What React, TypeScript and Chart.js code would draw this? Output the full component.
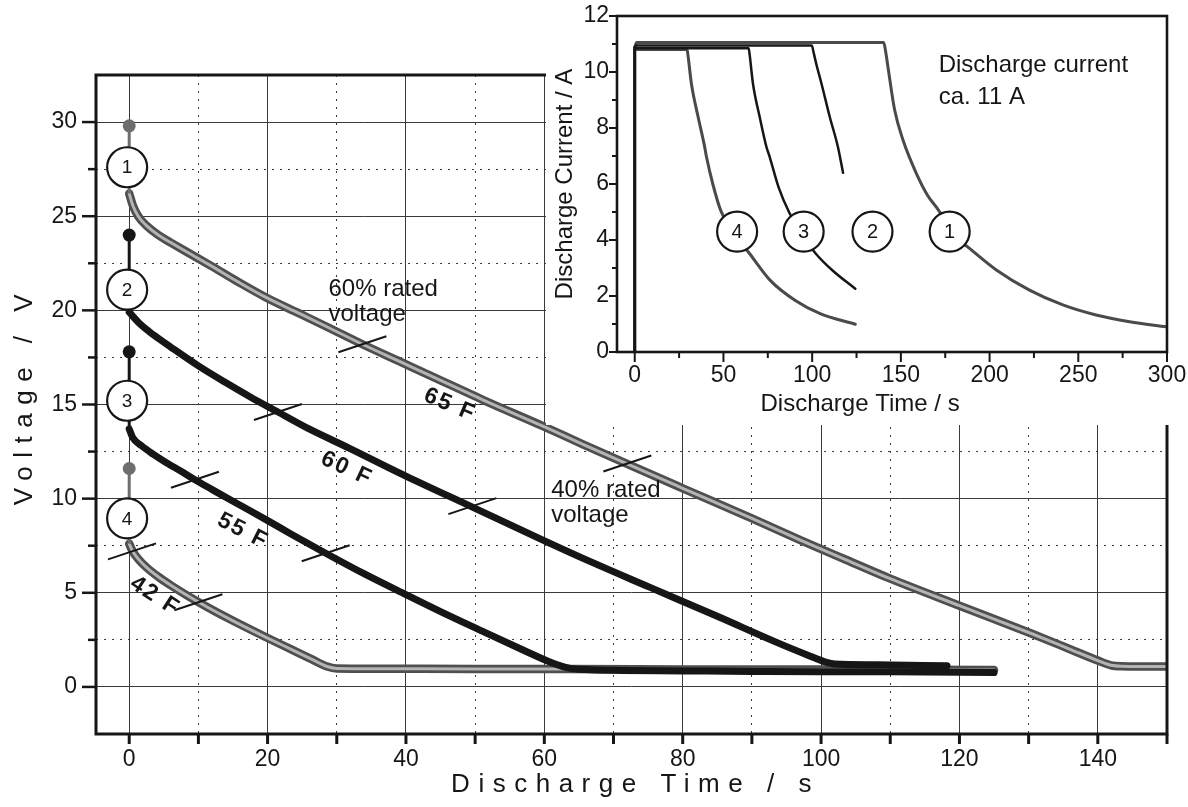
import React, { useEffect, useRef } from 'react';
import { Chart, registerables } from 'chart.js';

Chart.register(...registerables);

const FONT = "'Liberation Sans', Arial, Helvetica, sans-serif";
const INK = '#161616';
const GRID_COLOR = '#3a3a3a';
const GRAY_DARK = '#4f4f4f';
const GRAY_LIGHT = '#b4b4b4';

// ================= Main chart: voltage vs discharge time =================
const time65F = [0, 0.5, 1.3, 2.5, 4.2, 6, 8.1, 11.9, 15.8, 19.7, 24.5, 29, 33.7, 39, 44.3, 51.1, 59.8, 65.5, 71.8, 80, 90, 97, 103.7, 110, 120.1, 130.3, 136, 140, 141.9, 143.5, 150];
const volt65F = [26.2, 25.6, 25.0, 24.5, 24.0, 23.6, 23.15, 22.35, 21.5, 20.7, 19.85, 19.05, 18.2, 17.3, 16.4, 15.25, 13.85, 12.9, 11.87, 10.55, 8.95, 7.8, 6.74, 5.75, 4.3, 2.85, 2.0, 1.4, 1.15, 1.1, 1.08];
const time60F = [0, 1.5, 3.5, 6, 10, 14, 17.5, 21.5, 26, 31.7, 40, 49.6, 59.8, 67, 75.2, 85, 94, 98, 100.8, 102, 108, 118.2];
const volt60F = [19.9, 19.3, 18.7, 18.05, 17.05, 16.15, 15.4, 14.6, 13.7, 12.7, 11.2, 9.55, 7.8, 6.6, 5.3, 3.75, 2.3, 1.7, 1.3, 1.22, 1.18, 1.12];
const time55F = [0, 0.5, 1.8, 3.5, 5.2, 7.5, 9.5, 12, 14.8, 19.7, 23.5, 28.4, 34, 40, 45, 51.1, 57, 61, 63.6, 66, 70, 80, 90, 100, 110, 125];
const volt55F = [13.7, 13.25, 12.8, 12.35, 11.95, 11.45, 11.0, 10.48, 9.9, 8.9, 8.1, 7.1, 6.0, 4.9, 4.0, 2.95, 1.95, 1.3, 1.0, 0.92, 0.88, 0.85, 0.82, 0.8, 0.8, 0.76];
const time42F = [0, 0.5, 1.3, 2.5, 4.2, 6, 8.1, 11, 14.8, 19.7, 23.5, 26.5, 28.5, 30, 35, 50, 63, 80, 100, 125];
const volt42F = [7.6, 7.2, 6.8, 6.35, 5.85, 5.4, 4.92, 4.3, 3.55, 2.65, 1.98, 1.45, 1.1, 0.98, 0.97, 0.95, 0.95, 0.93, 0.92, 0.9];

// start markers (dot at charge voltage, numbered circle, start of discharge)
const markerDotVolt = [29.8, 24.0, 17.8, 11.6];
const markerCircleVolt = [27.6, 21.1, 15.2, 8.95];
const markerCircleTime = -0.3;
const markerLabels = ['1', '2', '3', '4'];
const markerColors = ['#6e6e6e', INK, INK, '#6e6e6e'];

// 60 % / 40 % rated-voltage marks on each curve
const ratedMarkTime = [33.7, 72, 21.5, 49.6, 9.5, 28.4, 0.4, 10];
const ratedMarkVolt = [18.2, 11.87, 14.6, 9.6, 11.0, 7.1, 7.2, 4.5];

// capacitance labels
const capLabels = ['65 F', '60 F', '55 F', '42 F'];
const capLabelTime = [46.2, 31.3, 16.3, 3.6];
const capLabelVolt = [15.0, 11.6, 8.3, 4.85];
const capLabelAngle = [23, 25, 27, 33];

// rated-voltage notes
const noteLines = [['60% rated', 'voltage'], ['40% rated', 'voltage']];
const noteTime = [28.8, 61];
const noteVolt = [21.1, 10.46];
const noteLineStep = 1.33;

const mainXLabels = [0, 20, 40, 60, 80, 100, 120, 140];
const mainYLabels = [0, 5, 10, 15, 20, 25, 30];

// ================= Inset: discharge current vs time =================
const insetTime1 = [0, 0, 1, 140.3, 141.5, 142.7, 146.5, 151.2, 158.7, 165, 171.8, 177.5, 188.7, 203.8, 222.5, 241.3, 260, 278.9, 299.5];
const insetCurr1 = [0, 10.9, 11.05, 11.05, 10.7, 10.19, 8.64, 7.57, 6.38, 5.6, 5.01, 4.3, 3.7, 2.93, 2.21, 1.68, 1.32, 1.08, 0.9];
const insetTime2 = [0, 0, 1, 99.8, 100.8, 102.5, 105.2, 109.9, 114.5, 117.4];
const insetCurr2 = [0, 10.9, 10.95, 10.95, 10.7, 10.24, 9.6, 8.4, 7.33, 6.4];
const insetTime3 = [0, 0, 1, 64.2, 64.8, 66.6, 70.4, 74.2, 76, 81, 87, 95.2, 102.2, 111.5, 124.3];
const insetCurr3 = [0, 10.85, 10.85, 10.85, 10.6, 9.6, 8.4, 7.33, 6.98, 5.9, 4.99, 4.1, 3.5, 2.91, 2.26];
const insetTime4 = [0, 0, 1, 29.5, 30.1, 31.9, 35.7, 39.4, 40.4, 44, 48.5, 57.7, 64.9, 76.5, 90.5, 104.5, 124.3];
const insetCurr4 = [0, 10.8, 10.8, 10.8, 10.55, 9.6, 8.4, 7.33, 6.98, 6.0, 5.05, 4.1, 3.5, 2.55, 1.84, 1.37, 0.99];

const insetCircleTime = [177.5, 134, 95.2, 57.7];
const insetCircleCurr = [4.3, 4.3, 4.3, 4.3];
const insetCircleLabels = ['1', '2', '3', '4'];

const insetNote = ['Discharge current', 'ca. 11 A'];
const insetNoteTime = 171.3;
const insetNoteCurr = [10.25, 9.1];

const insetXLabels = [0, 50, 100, 150, 200, 250, 300];
const insetYLabels = [0, 2, 4, 6, 8, 10, 12];
const insetXTitle = 'Discharge Time / s';
const insetXTitleCenterTime = 127;

// ================= helpers =================
const pts = (xs: number[], ys: number[]) => xs.map((x, i) => ({ x, y: ys[i] }));
const inList = (list: number[], v: number) => list.some((l) => Math.abs(l - v) < 1e-6);

const curve = (data: any[], color: string, width: number, order: number) => ({
  data,
  borderColor: color,
  backgroundColor: color,
  borderWidth: width,
  showLine: true,
  pointRadius: 0,
  cubicInterpolationMode: 'monotone',
  borderCapStyle: 'round',
  borderJoinStyle: 'round',
  order,
});

const drawCircleLabel = (ctx: CanvasRenderingContext2D, x: number, y: number, r: number, txt: string, size: number) => {
  ctx.beginPath();
  ctx.arc(x, y, r, 0, Math.PI * 2);
  ctx.fillStyle = '#ffffff';
  ctx.fill();
  ctx.lineWidth = 2.2;
  ctx.strokeStyle = INK;
  ctx.stroke();
  ctx.fillStyle = INK;
  ctx.font = `${size}px ${FONT}`;
  ctx.textAlign = 'center';
  ctx.textBaseline = 'middle';
  ctx.fillText(txt, x, y + 1);
};

const mainOverlay = {
  id: 'mainOverlay',
  afterDatasetsDraw(chart: any) {
    const { ctx, chartArea: a } = chart;
    const xs = chart.scales.x;
    const ys = chart.scales.y;
    ctx.save();
    ctx.strokeStyle = INK;
    ctx.lineWidth = 3;
    ctx.strokeRect(a.left, a.top, a.right - a.left, a.bottom - a.top);
    ctx.lineWidth = 2.5;
    ys.ticks.forEach((t: any) => {
      const v = t.value;
      if (v < -0.01 || v > 30.01) return;
      const py = ys.getPixelForValue(v);
      const len = inList(mainYLabels, v) ? 14 : 8;
      ctx.beginPath();
      ctx.moveTo(a.left - len, py);
      ctx.lineTo(a.left, py);
      ctx.stroke();
    });
    ctx.lineWidth = 3;
    xs.ticks.forEach((t: any) => {
      const px = xs.getPixelForValue(t.value);
      ctx.beginPath();
      ctx.moveTo(px, a.bottom);
      ctx.lineTo(px, a.bottom + 10);
      ctx.stroke();
    });
    ctx.lineWidth = 2;
    ratedMarkTime.forEach((t, i) => {
      const px = xs.getPixelForValue(t);
      const py = ys.getPixelForValue(ratedMarkVolt[i]);
      ctx.beginPath();
      ctx.moveTo(px - 24, py + 8);
      ctx.lineTo(px + 24, py - 8);
      ctx.stroke();
    });
    markerCircleVolt.forEach((v, i) => {
      drawCircleLabel(ctx, xs.getPixelForValue(markerCircleTime), ys.getPixelForValue(v), 20, markerLabels[i], 19);
    });
    ctx.fillStyle = INK;
    ctx.font = `bold 23px ${FONT}`;
    ctx.textAlign = 'center';
    ctx.textBaseline = 'middle';
    (ctx as any).letterSpacing = '2px';
    capLabels.forEach((txt, i) => {
      ctx.save();
      ctx.translate(xs.getPixelForValue(capLabelTime[i]), ys.getPixelForValue(capLabelVolt[i]));
      ctx.rotate((capLabelAngle[i] * Math.PI) / 180);
      ctx.fillText(txt, 1, 0);
      ctx.restore();
    });
    (ctx as any).letterSpacing = '0px';
    ctx.font = `24px ${FONT}`;
    ctx.textAlign = 'left';
    noteLines.forEach((lines, i) => {
      lines.forEach((line, j) => {
        ctx.fillText(line, xs.getPixelForValue(noteTime[i]), ys.getPixelForValue(noteVolt[i] - j * noteLineStep));
      });
    });
    ctx.restore();
  },
  afterDraw(chart: any) {
    const { ctx, chartArea: a } = chart;
    ctx.save();
    ctx.fillStyle = INK;
    ctx.font = `26px ${FONT}`;
    (ctx as any).letterSpacing = '8.5px';
    ctx.textAlign = 'center';
    ctx.textBaseline = 'middle';
    ctx.fillText('Discharge Time / s', (a.left + a.right) / 2 + 4, 785);
    ctx.translate(25, (a.top + a.bottom) / 2 - 5);
    ctx.rotate(-Math.PI / 2);
    ctx.fillText('Voltage / V', 4, 0);
    (ctx as any).letterSpacing = '0px';
    ctx.restore();
  },
};

const insetOverlay = {
  id: 'insetOverlay',
  afterDatasetsDraw(chart: any) {
    const { ctx, chartArea: a } = chart;
    const xs = chart.scales.x;
    const ys = chart.scales.y;
    ctx.save();
    ctx.strokeStyle = INK;
    ctx.lineWidth = 2.6;
    ctx.strokeRect(a.left, a.top, a.right - a.left, a.bottom - a.top);
    ctx.lineWidth = 2;
    ys.ticks.forEach((t: any) => {
      const py = ys.getPixelForValue(t.value);
      const len = inList(insetYLabels, t.value) ? 8 : 5;
      ctx.beginPath();
      ctx.moveTo(a.left - len, py);
      ctx.lineTo(a.left, py);
      ctx.stroke();
    });
    xs.ticks.forEach((t: any) => {
      const px = xs.getPixelForValue(t.value);
      const len = inList(insetXLabels, t.value) ? 10 : 6;
      ctx.beginPath();
      ctx.moveTo(px, a.bottom);
      ctx.lineTo(px, a.bottom + len);
      ctx.stroke();
    });
    insetCircleTime.forEach((t, i) => {
      drawCircleLabel(ctx, xs.getPixelForValue(t), ys.getPixelForValue(insetCircleCurr[i]), 20, insetCircleLabels[i], 20);
    });
    ctx.fillStyle = INK;
    ctx.font = `24px ${FONT}`;
    ctx.textAlign = 'left';
    ctx.textBaseline = 'middle';
    insetNote.forEach((line, i) => {
      ctx.fillText(line, xs.getPixelForValue(insetNoteTime), ys.getPixelForValue(insetNoteCurr[i]));
    });
    // x-axis title (offset left of the axis centre, as in the original)
    ctx.textAlign = 'center';
    ctx.fillText(insetXTitle, xs.getPixelForValue(insetXTitleCenterTime), chart.height - 21);
    ctx.restore();
  },
};

export default function App() {
  const mainRef = useRef<HTMLCanvasElement>(null);
  const insetRef = useRef<HTMLCanvasElement>(null);

  useEffect(() => {
    Chart.defaults.font.family = FONT;
    const tickFont = { family: FONT, size: 23 };
    const curveStarts = [volt65F[0], volt60F[0], volt55F[0], volt42F[0]];

    const mainDatasets: any[] = [
      ...markerDotVolt.map((v, i) => ({
        data: [{ x: 0, y: v }, { x: 0, y: curveStarts[i] }],
        borderColor: markerColors[i],
        backgroundColor: markerColors[i],
        borderWidth: 3,
        showLine: true,
        pointRadius: [6.5, 0],
        pointBackgroundColor: markerColors[i],
        pointBorderWidth: 0,
        order: 0,
      })),
      curve(pts(time60F, volt60F), INK, 7, 1),
      curve(pts(time55F, volt55F), INK, 7, 2),
      curve(pts(time65F, volt65F), GRAY_LIGHT, 3, 3),
      curve(pts(time65F, volt65F), GRAY_DARK, 8.5, 4),
      curve(pts(time42F, volt42F), GRAY_LIGHT, 3, 5),
      curve(pts(time42F, volt42F), GRAY_DARK, 8.5, 6),
    ];

    const main = new Chart(mainRef.current as HTMLCanvasElement, {
      type: 'scatter',
      data: { datasets: mainDatasets },
      plugins: [mainOverlay],
      options: {
        animation: false,
        responsive: false,
        events: [],
        layout: { padding: { top: 75, right: 21, left: 0, bottom: 0 } },
        plugins: { legend: { display: false }, tooltip: { enabled: false } },
        scales: {
          x: {
            type: 'linear',
            min: -4.8,
            max: 150,
            afterFit: (s: any) => { s.height = 73; },
            ticks: {
              stepSize: 10,
              includeBounds: false,
              autoSkip: false,
              maxRotation: 0,
              padding: 12,
              color: INK,
              font: tickFont,
              callback: (v: any) => (inList(mainXLabels, Number(v)) ? String(v) : ''),
            },
            grid: { drawTicks: false, color: GRID_COLOR, lineWidth: 1 },
            border: {
              display: false,
              dash: (c: any) => (c.tick ? (inList(mainXLabels, c.tick.value) ? [] : [2, 6]) : []),
            },
          },
          y: {
            type: 'linear',
            min: -2.5,
            max: 32.5,
            afterFit: (s: any) => { s.width = 96; },
            ticks: {
              stepSize: 2.5,
              autoSkip: false,
              padding: 19,
              color: INK,
              font: tickFont,
              callback: (v: any) => (inList(mainYLabels, Number(v)) ? String(v) : ''),
            },
            grid: { drawTicks: false, color: GRID_COLOR, lineWidth: 1 },
            border: {
              display: false,
              dash: (c: any) => (c.tick ? (inList(mainYLabels, c.tick.value) ? [] : [2, 6]) : []),
            },
          },
        },
      } as any,
    });

    const insetDatasets: any[] = [
      curve(pts(insetTime2, insetCurr2), INK, 2.5, 1),
      curve(pts(insetTime3, insetCurr3), INK, 2.5, 2),
      curve(pts(insetTime1, insetCurr1), '#4a4a4a', 3, 3),
      curve(pts(insetTime4, insetCurr4), '#4a4a4a', 3, 4),
    ];

    const hiddenGrid = {
      display: true,
      drawOnChartArea: false,
      drawTicks: true,
      color: 'rgba(0,0,0,0)',
      tickColor: 'rgba(0,0,0,0)',
    };

    const inset = new Chart(insetRef.current as HTMLCanvasElement, {
      type: 'scatter',
      data: { datasets: insetDatasets },
      plugins: [insetOverlay],
      options: {
        animation: false,
        responsive: false,
        events: [],
        layout: { padding: { top: 16, right: 21, left: 0, bottom: 0 } },
        plugins: { legend: { display: false }, tooltip: { enabled: false } },
        scales: {
          x: {
            type: 'linear',
            min: -10,
            max: 300,
            afterFit: (s: any) => { s.height = 73; },
            ticks: {
              stepSize: 25,
              includeBounds: false,
              autoSkip: false,
              maxRotation: 0,
              padding: 0,
              color: INK,
              font: tickFont,
              callback: (v: any) => (inList(insetXLabels, Number(v)) ? String(v) : ''),
            },
            grid: { ...hiddenGrid, tickLength: 10 },
            border: { display: false },
          },
          y: {
            type: 'linear',
            min: 0,
            max: 12,
            afterFit: (s: any) => { s.width = 71; },
            ticks: {
              stepSize: 1,
              autoSkip: false,
              padding: 0,
              color: INK,
              font: tickFont,
              callback: (v: any) => (inList(insetYLabels, Number(v)) ? String(v) : ''),
            },
            grid: { ...hiddenGrid, tickLength: 8 },
            border: { display: false },
            title: {
              display: true,
              text: 'Discharge Current / A',
              color: INK,
              font: { family: FONT, size: 24 },
              padding: { top: 5, bottom: 0 },
            },
          },
        },
      } as any,
    });

    return () => {
      main.destroy();
      inset.destroy();
    };
  }, []);

  return (
    <div style={{ position: 'absolute', left: 0, top: 0, width: 1188, height: 807, background: '#ffffff', overflow: 'hidden' }}>
      <canvas ref={mainRef} width={1188} height={807} style={{ position: 'absolute', left: 0, top: 0, width: 1188, height: 807 }} />
      <div style={{ position: 'absolute', left: 546, top: 0, width: 642, height: 425, background: '#ffffff' }}>
        <canvas ref={insetRef} width={642} height={425} style={{ display: 'block', width: 642, height: 425 }} />
      </div>
    </div>
  );
}
